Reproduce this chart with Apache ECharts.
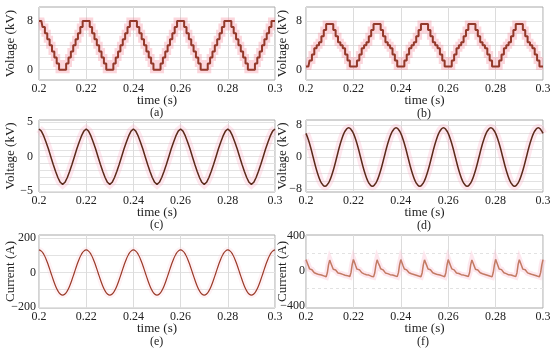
<!DOCTYPE html>
<html><head><meta charset="utf-8">
<script src="https://cdn.jsdelivr.net/npm/echarts@6/dist/echarts.min.js"></script>
<style>html,body{margin:0;padding:0;background:#fff}#c{width:550px;height:353px}</style>
</head><body><div id="c"></div>
<script>
// sample times in ms (x axis shown in s)
const t1 = Array.from({length:101}, (_, i) => 200 + i);
const t2 = Array.from({length:201}, (_, i) => 200 + i * 0.5);
const xTicks = [200, 220, 240, 260, 280, 300];

// (a) staircase voltage kV
const voltA = [
 8,8,7,6,5,4,3,2,1,0,0,0,1,2,3,4,5,6,7,8,
 8,8,7,6,5,4,3,2,1,0,0,0,1,2,3,4,5,6,7,8,
 8,8,7,6,5,4,3,2,1,0,0,0,1,2,3,4,5,6,7,8,
 8,8,7,6,5,4,3,2,1,0,0,0,1,2,3,4,5,6,7,8,
 8,8,7,6,5,4,3,2,1,0,0,0,1,2,3,4,5,6,7,8,
 8];
// (b) staircase voltage kV
const voltB = [
 0.5,0.5,1.5,2.5,3.5,4,4.5,5.5,6.5,7.5,7.5,7.5,6.5,5.5,4.5,4,3.5,2.5,1.5,0.5,
 0.5,0.5,1.5,2.5,3.5,4,4.5,5.5,6.5,7.5,7.5,7.5,6.5,5.5,4.5,4,3.5,2.5,1.5,0.5,
 0.5,0.5,1.5,2.5,3.5,4,4.5,5.5,6.5,7.5,7.5,7.5,6.5,5.5,4.5,4,3.5,2.5,1.5,0.5,
 0.5,0.5,1.5,2.5,3.5,4,4.5,5.5,6.5,7.5,7.5,7.5,6.5,5.5,4.5,4,3.5,2.5,1.5,0.5,
 0.5,0.5,1.5,2.5,3.5,4,4.5,5.5,6.5,7.5,7.5,7.5,6.5,5.5,4.5,4,3.5,2.5,1.5,0.5,
 0.5];
// (c) voltage kV
const voltC = [
 4,3.7,3,2.1,1.1,0,-1.1,-2.1,-3,-3.7,-4,-3.7,-3,-2.1,-1.1,0,1.1,2.1,3,3.7,
 4,3.7,3,2.1,1.1,0,-1.1,-2.1,-3,-3.7,-4,-3.7,-3,-2.1,-1.1,0,1.1,2.1,3,3.7,
 4,3.7,3,2.1,1.1,0,-1.1,-2.1,-3,-3.7,-4,-3.7,-3,-2.1,-1.1,0,1.1,2.1,3,3.7,
 4,3.7,3,2.1,1.1,0,-1.1,-2.1,-3,-3.7,-4,-3.7,-3,-2.1,-1.1,0,1.1,2.1,3,3.7,
 4,3.7,3,2.1,1.1,0,-1.1,-2.1,-3,-3.7,-4,-3.7,-3,-2.1,-1.1,0,1.1,2.1,3,3.7,
 4];
// (d) voltage kV
const voltD = [
 5.9,4.3,2.3,0,-2.3,-4.3,-5.9,-6.9,-7.3,-6.9,-5.9,-4.3,-2.3,0,2.3,4.3,5.9,6.9,7.3,6.9,
 5.9,4.3,2.3,0,-2.3,-4.3,-5.9,-6.9,-7.3,-6.9,-5.9,-4.3,-2.3,0,2.3,4.3,5.9,6.9,7.3,6.9,
 5.9,4.3,2.3,0,-2.3,-4.3,-5.9,-6.9,-7.3,-6.9,-5.9,-4.3,-2.3,0,2.3,4.3,5.9,6.9,7.3,6.9,
 5.9,4.3,2.3,0,-2.3,-4.3,-5.9,-6.9,-7.3,-6.9,-5.9,-4.3,-2.3,0,2.3,4.3,5.9,6.9,7.3,6.9,
 5.9,4.3,2.3,0,-2.3,-4.3,-5.9,-6.9,-7.3,-6.9,-5.9,-4.3,-2.3,0,2.3,4.3,5.9,6.9,7.3,6.9,
 5.9];
// (e) current A
const currE = [
 132,125,107,78,41,0,-41,-78,-107,-125,-132,-125,-107,-78,-41,0,41,78,107,125,
 132,125,107,78,41,0,-41,-78,-107,-125,-132,-125,-107,-78,-41,0,41,78,107,125,
 132,125,107,78,41,0,-41,-78,-107,-125,-132,-125,-107,-78,-41,0,41,78,107,125,
 132,125,107,78,41,0,-41,-78,-107,-125,-132,-125,-107,-78,-41,0,41,78,107,125,
 132,125,107,78,41,0,-41,-78,-107,-125,-132,-125,-107,-78,-41,0,41,78,107,125,
 132];
// (f) current A (0.5 ms samples)
const currF = [
 130,95,60,25,5,15,-5,-20,-10,-30,-20,-40,-30,-45,-35,-55,-40,-65,-20,70,
 125,90,55,20,0,12,-8,-22,-12,-28,-25,-38,-32,-48,-30,-52,-45,-62,-15,75,
 132,96,58,22,4,16,-4,-18,-12,-32,-22,-42,-28,-46,-38,-58,-42,-66,-22,68,
 128,92,62,26,6,14,-6,-21,-9,-29,-19,-41,-31,-44,-36,-54,-41,-63,-18,72,
 130,94,57,24,3,13,-7,-19,-11,-31,-23,-39,-29,-47,-34,-56,-43,-64,-21,71,
 127,93,59,23,5,15,-5,-20,-10,-30,-21,-40,-30,-45,-37,-55,-40,-65,-19,69,
 131,96,61,25,4,14,-6,-22,-11,-28,-20,-41,-32,-46,-35,-53,-44,-62,-20,73,
 126,91,56,21,2,12,-8,-20,-13,-31,-24,-39,-29,-48,-36,-57,-41,-66,-17,70,
 133,97,60,24,6,16,-4,-19,-10,-29,-22,-43,-31,-44,-33,-54,-42,-63,-21,74,
 129,94,58,22,3,14,-6,-21,-12,-30,-20,-40,-28,-47,-37,-56,-43,-64,-18,71,
 130];

const yLabelsA = [0, 8], yGridA = [0, 2, 4, 6, 8];
const yLabelsC = [-5, 0, 5], yGridC = [-5,-4,-3,-2,-1,0,1,2,3,4,5];
const yLabelsD = [-8, 0, 8], yGridD = [-8,-6,-4,-2,0,2,4,6,8];
const yLabelsE = [-200, 0, 200], yGridE = [-200,-100,0,100,200];
const yLabelsF = [-400, 0, 400], yGridF = [-200, 200];
const captions = ['(a)','(b)','(c)','(d)','(e)','(f)'];

const FONT = 'Liberation Serif';
const panels = [
 {grid:{left:39,right:275,top:7,height:73}, t:t1, v:voltA, step:'middle', min:-1.7, max:10.3, lab:yLabelsA, gl:yGridA, name:'Voltage (kV)', col:'#93392a', w:2, halo:'rgba(242,130,150,0.33)', hw:7, lm:6, ng:22, dash:false},
 {grid:{left:306,right:7,top:7,height:73}, t:t1, v:voltB, step:'middle', min:-1.7, max:10.3, lab:yLabelsA, gl:yGridA, name:'Voltage (kV)', col:'#93392a', w:2, halo:'rgba(242,130,150,0.33)', hw:7, lm:4, ng:17, dash:false},
 {grid:{left:39,right:275,top:120,height:72}, t:t1, v:voltC, step:false, min:-5.1, max:5.3, lab:yLabelsC, gl:yGridC, name:'Voltage (kV)', col:'#5b2a1a', w:1.5, halo:'rgba(250,170,195,0.28)', hw:8, lm:6, ng:22, dash:false},
 {grid:{left:306,right:7,top:120,height:72}, t:t1, v:voltD, step:false, smooth:true, min:-8.75, max:9.25, lab:yLabelsD, gl:yGridD, name:'Voltage (kV)', col:'#5b2a1a', w:1.5, halo:'rgba(250,170,195,0.28)', hw:8, lm:4, ng:17, dash:false},
 {grid:{left:39,right:275,top:235,height:73}, t:t1, v:currE, step:false, smooth:true, min:-207, max:219, lab:yLabelsE, gl:yGridE, name:'Current (A)', col:'#9a3a28', w:1.2, halo:'rgba(250,195,208,0.22)', hw:6, lm:3, ng:22, dash:false},
 {grid:{left:306,right:7,top:235,height:73}, t:t2, v:currF, step:false, min:-420, max:410, lab:yLabelsF, gl:yGridF, name:'Current (A)', col:'#c27a63', w:1.5, halo:'rgba(250,195,212,0.4)', hw:6, lm:1, ng:17, dash:true},
];

const fmtY = v => v < 0 ? '\u2212' + (-v) : String(v);
const option = {
 animation:false,
 backgroundColor:'#fff',
 grid: panels.map(p => Object.assign({show:true, borderColor:'#a8a8a8', borderWidth:1, backgroundColor:'#fff', containLabel:false, outerBoundsMode:'none'}, p.grid)),
 xAxis: panels.map((p,i) => ({
   type:'value', gridIndex:i, min:200, max:300, interval:20,
   name:'time (s)', nameLocation:'middle', nameGap:14, nameMoveOverlap:false,
   nameTextStyle:{fontFamily:FONT, fontSize:13, color:'#222'},
   axisLine:{show:false}, axisTick:{show:false},
   axisLabel:{fontFamily:FONT, fontSize:12, color:'#222', margin:3, formatter:v => String(v/1000)},
   splitLine:{show:true, lineStyle:{color:'#dcdcdc', width:1}}
 })),
 yAxis: panels.map((p,i) => ({
   type:'value', gridIndex:i, min:p.min, max:p.max,
   name:p.name, nameLocation:'middle', nameGap:p.ng, nameMoveOverlap:false,
   nameTextStyle:{fontFamily:FONT, fontSize:13, color:'#222'},
   axisLine:{show:false},
   axisTick:{show:false, customValues:p.gl},
   axisLabel:{fontFamily:FONT, fontSize:12, color:'#222', margin:p.lm, customValues:p.lab, formatter:fmtY},
   splitLine:{show:true, lineStyle:{color:'#e2e2e2', width:1, type:p.dash ? [3,3] : 'solid'}}
 })),
 series: panels.flatMap((p,i) => {
   const d = p.t.map((x,k) => [x, p.v[k]]);
   return [
    {type:'line', xAxisIndex:i, yAxisIndex:i, data:d, step:p.step, smooth:!!p.smooth, showSymbol:false, silent:true, z:1,
     lineStyle:{color:p.halo, width:p.hw, join:'miter', cap:'butt'}},
    {type:'line', xAxisIndex:i, yAxisIndex:i, data:d, step:p.step, smooth:!!p.smooth, showSymbol:false, silent:true, z:2,
     lineStyle:{color:p.col, width:p.w}}
   ];
 }),
 graphic: captions.map((c,i) => ({
   type:'text', left:(i%2===0 ? 157 : 424) - 7, top:[107,108,219,220,336,336][i],
   style:{text:c, font:'12px "Liberation Serif"', fill:'#222'}
 }))
};
const chart = echarts.init(document.getElementById('c'), null, {renderer:'canvas'});
chart.setOption(option);
</script></body></html>
